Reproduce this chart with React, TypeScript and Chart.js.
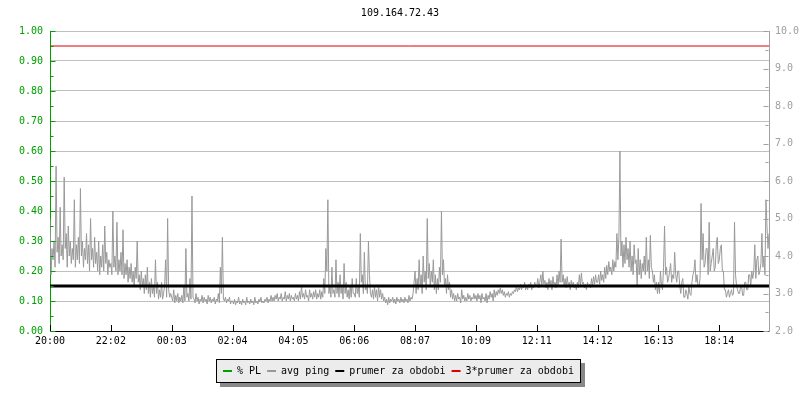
import React, { useEffect, useRef } from "react";
import { Chart, registerables } from "chart.js";

Chart.register(...registerables);

const chartTitle = "109.164.72.43";
const timeTicks = ["20:00", "22:02", "00:03", "02:04", "04:05", "06:06", "08:07", "10:09", "12:11", "14:12", "16:13", "18:14"];
const pointsPerTick = 60;

// avg ping (ms), right axis, ~2 min samples
const avgPing = [
  // 20:00 - 22:02
  5.0, 3.5, 4.2, 3.9, 4.4, 3.7, 6.4, 4.1, 4.5, 3.8,
  5.3, 4.0, 4.3, 3.9, 6.1, 4.2, 4.6, 3.7, 4.8, 4.0,
  4.4, 3.8, 4.2, 3.9, 5.5, 3.7, 4.3, 3.9, 4.5, 3.8,
  5.8, 4.0, 4.4, 3.7, 4.2, 3.9, 4.6, 3.8, 4.3, 3.6,
  5.0, 3.9, 4.2, 3.7, 4.5, 3.8, 4.1, 3.6, 4.4, 3.5,
  4.0, 3.7, 4.3, 3.6, 4.8, 3.8, 4.1, 3.5, 3.9, 3.7,
  // 22:02 - 00:03
  3.8, 3.5, 5.2, 3.7, 4.0, 3.6, 4.9, 3.5, 3.9, 3.6,
  4.1, 3.5, 4.7, 3.4, 3.8, 3.5, 3.9, 3.3, 3.7, 3.4,
  3.8, 3.3, 3.6, 3.2, 3.7, 3.4, 4.4, 3.3, 3.5, 3.1,
  3.6, 3.2, 3.4, 3.0, 3.5, 3.1, 3.7, 3.0, 3.3, 2.9,
  3.4, 3.0, 3.2, 2.9, 3.9, 3.0, 3.3, 2.85, 3.1, 2.9,
  3.3, 2.85, 3.0, 3.2, 3.9, 2.9, 5.0, 3.1, 2.9, 3.0,
  // 00:03 - 02:04
  2.9, 2.8, 3.1, 2.75, 2.95, 2.8, 3.0, 2.75, 2.9, 2.8,
  2.95, 2.75, 3.2, 2.8, 4.2, 2.9, 3.0, 2.8, 3.4, 2.85,
  5.6, 2.9, 2.85, 2.75, 3.0, 2.8, 2.9, 2.72, 2.85, 2.8,
  2.95, 2.75, 2.9, 2.8, 2.85, 2.72, 2.95, 2.8, 2.9, 2.75,
  2.85, 2.8, 2.9, 2.72, 2.85, 2.8, 3.0, 2.75, 3.7, 3.0,
  4.5, 2.85, 2.8, 2.9, 2.75, 2.85, 2.8, 2.9, 2.72, 2.8,
  // 02:04 - 04:05
  2.8, 2.72, 2.85, 2.7, 2.8, 2.75, 2.9, 2.72, 2.8, 2.7,
  2.85, 2.75, 2.8, 2.7, 2.9, 2.75, 2.8, 2.72, 2.85, 2.75,
  2.8, 2.7, 2.9, 2.75, 2.8, 2.72, 2.85, 2.78, 2.9, 2.75,
  2.8, 2.75, 2.85, 2.8, 2.9, 2.75, 2.85, 2.8, 2.95, 2.8,
  2.9, 2.8, 2.95, 2.85, 3.0, 2.8, 2.9, 2.85, 3.0, 2.8,
  2.9, 2.85, 3.05, 2.8, 2.95, 2.85, 3.0, 2.8, 2.95, 2.85,
  // 04:05 - 06:06
  2.9, 2.8, 3.0, 2.85, 2.95, 2.8, 3.05, 2.85, 3.2, 2.9,
  3.0, 2.85, 3.1, 2.9, 2.95, 2.8, 3.1, 2.9, 3.0, 2.85,
  3.05, 2.9, 3.1, 2.85, 3.0, 2.9, 3.1, 2.85, 3.05, 2.9,
  3.4, 3.0, 4.2, 3.6, 5.5, 3.0, 3.2, 2.9, 3.7, 3.0,
  3.1, 2.9, 3.9, 3.0, 3.3, 2.9, 3.5, 3.0, 3.2, 2.85,
  3.8, 3.0, 3.3, 2.9, 3.1, 2.85, 3.2, 2.9, 3.4, 3.0,
  // 06:06 - 08:07
  3.0, 2.9, 3.4, 3.0, 3.2, 2.9, 4.6, 3.3, 3.5, 3.0,
  4.1, 3.1, 3.2, 3.0, 4.4, 3.5, 3.0, 2.9, 3.1, 2.85,
  3.2, 2.9, 3.1, 2.8, 3.2, 2.9, 3.1, 2.85, 3.0, 2.8,
  2.9, 2.75, 2.85, 2.7, 2.9, 2.75, 2.85, 2.8, 2.9, 2.75,
  2.85, 2.72, 2.9, 2.8, 2.85, 2.75, 2.9, 2.78, 2.85, 2.75,
  2.9, 2.8, 2.85, 2.75, 2.95, 2.8, 2.9, 2.85, 3.0, 3.3,
  // 08:07 - 10:09
  3.6, 3.0, 3.4, 3.1, 3.9, 3.2, 3.5, 3.0, 4.0, 3.3,
  3.6, 3.1, 5.0, 3.4, 3.8, 3.2, 3.6, 3.3, 3.9, 3.1,
  3.5, 3.0, 3.4, 3.1, 3.7, 3.3, 5.2, 3.5, 3.9, 3.2,
  3.4, 3.0, 3.5, 3.1, 3.3, 2.9, 3.1, 2.85, 3.0, 2.8,
  2.95, 2.8, 3.0, 2.85, 2.9, 2.75, 3.1, 2.85, 2.95, 2.8,
  2.9, 2.8, 3.0, 2.85, 2.95, 2.8, 2.9, 2.85, 3.0, 2.85,
  // 10:09 - 12:11
  2.95, 2.8, 3.0, 2.85, 2.95, 2.75, 3.0, 2.85, 2.9, 2.8,
  3.0, 2.75, 2.95, 2.85, 3.05, 2.9, 3.0, 2.8, 3.1, 2.9,
  3.05, 2.95, 3.1, 3.0, 3.15, 3.0, 3.1, 2.95, 3.05, 2.9,
  3.0, 2.95, 3.05, 2.9, 3.0, 2.95, 3.05, 3.0, 3.1, 3.05,
  3.2, 3.05, 3.15, 3.1, 3.25, 3.1, 3.2, 3.15, 3.3, 3.1,
  3.2, 3.1, 3.25, 3.15, 3.3, 3.1, 3.2, 3.15, 3.3, 3.2,
  // 12:11 - 14:12
  3.2, 3.4, 3.15, 3.3, 3.5, 3.2, 3.6, 3.25, 3.35, 3.15,
  3.3, 3.1, 3.4, 3.2, 3.35, 3.1, 3.45, 3.2, 3.3, 3.15,
  3.5, 3.2, 3.6, 3.3, 4.45, 3.3, 3.5, 3.2, 3.4, 3.15,
  3.45, 3.2, 3.3, 3.1, 3.35, 3.2, 3.3, 3.15, 3.25, 3.1,
  3.3, 3.15, 3.5, 3.2, 3.55, 3.25, 3.3, 3.15, 3.25, 3.1,
  3.3, 3.2, 3.25, 3.15, 3.4, 3.2, 3.45, 3.25, 3.5, 3.3,
  // 14:12 - 16:13
  3.3, 3.5, 3.25, 3.6, 3.35, 3.5, 3.3, 3.7, 3.4, 3.75,
  3.5, 3.85, 3.6, 3.7, 3.5, 3.9, 3.6, 3.85, 3.7, 4.6,
  3.9, 4.5, 6.8, 4.0, 4.4, 3.7, 4.3, 3.8, 4.5, 3.9,
  4.2, 3.7, 4.4, 3.6, 4.0, 3.5, 4.3, 3.8, 3.9, 3.2,
  4.2, 3.5, 3.9, 3.4, 3.8, 3.6, 4.0, 3.5, 4.5, 3.6,
  3.9, 3.4, 4.55, 3.7, 3.6, 3.3, 3.5, 3.1, 3.3, 3.0,
  // 16:13 - 18:14
  3.3, 3.0, 3.6, 3.2, 3.1, 3.7, 4.8, 3.5, 3.7, 3.3,
  3.4, 3.6, 3.8, 3.3, 3.5, 3.4, 4.1, 3.5, 3.3, 3.6,
  3.6, 3.2, 3.0, 3.3, 3.4, 2.9, 2.9, 3.1, 3.0, 2.85,
  3.2, 3.0, 2.95, 3.3, 3.5, 3.6, 3.9, 3.3, 3.5, 3.2,
  3.2, 3.4, 5.4, 3.9, 4.6, 3.7, 3.8, 4.2, 4.2, 3.5,
  4.9, 3.6, 3.8, 4.0, 4.2, 3.6, 3.7, 4.3, 4.5, 3.8,
  // 18:14 - end
  3.9, 4.2, 4.3, 3.6, 3.6, 3.1, 3.1, 2.9, 3.0, 3.1,
  2.9, 3.0, 3.1, 2.95, 3.0, 4.9, 3.5, 3.2, 3.1, 3.0,
  3.0, 3.2, 3.2, 2.95, 2.95, 3.3, 3.3, 3.1, 3.1, 3.5,
  3.5, 3.2, 3.6, 3.4, 3.6, 4.3, 3.4, 3.9, 4.0, 3.5,
  3.6, 3.8, 4.6, 3.7, 4.0, 3.5, 5.5, 4.8, 4.2, 4.6,
];

// % packet loss, left axis (no loss recorded)
const packetLoss: number[] = [];
const meanPing = 3.2;
const tripleMeanPing = 9.6;

const FONT = '"DejaVu Sans Mono", monospace';
const GREEN = "#00a000";
const GRAY = "#a0a0a0";
const PING = "#999999";
const GRID = "#c0c0c0";
const RED = "#e00000";

const tickMarks = {
  id: "tickMarks",
  afterDatasetsDraw(chart: any) {
    const ctx = chart.ctx;
    const area = chart.chartArea;
    const yL = chart.scales.yPL;
    const yR = chart.scales.yPing;
    const xs = chart.scales.x;
    ctx.save();
    ctx.lineWidth = 1;
    const lx = Math.round(area.left) + 0.5;
    ctx.strokeStyle = GREEN;
    for (let k = 0; k <= 20; k++) {
      const v = yL.min + (k * (yL.max - yL.min)) / 20;
      const y = Math.round(yL.getPixelForValue(v)) + 0.5;
      const len = k % 2 === 0 ? 5 : 3;
      ctx.beginPath();
      ctx.moveTo(lx, y);
      ctx.lineTo(lx + len, y);
      ctx.stroke();
    }
    const rx = Math.round(area.right) - 0.5;
    ctx.strokeStyle = GRAY;
    for (let k = 0; k <= 16; k++) {
      const v = yR.min + (k * (yR.max - yR.min)) / 16;
      const y = Math.round(yR.getPixelForValue(v)) + 0.5;
      const len = k % 2 === 0 ? 5 : 3;
      ctx.beginPath();
      ctx.moveTo(rx, y);
      ctx.lineTo(rx - len, y);
      ctx.stroke();
    }
    ctx.strokeStyle = "#000";
    const by = Math.round(area.bottom);
    xs.ticks.forEach((t: any) => {
      const x = Math.round(xs.getPixelForValue(t.value)) + 0.5;
      ctx.beginPath();
      ctx.moveTo(x, by - 6);
      ctx.lineTo(x, by);
      ctx.stroke();
    });
    ctx.restore();
  },
};

const boxLegend = {
  id: "boxLegend",
  afterDraw(chart: any) {
    const ctx = chart.ctx;
    ctx.save();
    ctx.font = "10px " + FONT;
    const items = chart.data.datasets.map((d: any) => ({ label: d.label, color: d.borderColor }));
    const lineW = 9;
    const gap1 = 5;
    const gap2 = 6;
    const padX = 7;
    let total = padX * 2;
    items.forEach((it: any, i: number) => {
      total += lineW + gap1 + ctx.measureText(it.label).width + (i < items.length - 1 ? gap2 : 0);
    });
    const boxW = Math.round(total);
    const boxH = 24;
    const left = Math.round(398 - boxW / 2);
    const top = 359;
    ctx.fillStyle = "#888888";
    ctx.fillRect(left + 4, top + 4, boxW, boxH);
    ctx.fillStyle = "#ececec";
    ctx.fillRect(left, top, boxW, boxH);
    ctx.strokeStyle = "#000";
    ctx.lineWidth = 1;
    ctx.strokeRect(left + 0.5, top + 0.5, boxW - 1, boxH - 1);
    let x = left + padX;
    const cy = top + boxH / 2;
    ctx.textBaseline = "middle";
    ctx.textAlign = "left";
    items.forEach((it: any) => {
      ctx.fillStyle = it.color;
      ctx.fillRect(x, cy - 1, lineW, 2);
      x += lineW + gap1;
      ctx.fillStyle = "#000";
      ctx.fillText(it.label, x, cy);
      x += ctx.measureText(it.label).width + gap2;
    });
    ctx.restore();
  },
};

export default function App() {
  const canvasRef = useRef<HTMLCanvasElement | null>(null);

  useEffect(() => {
    const canvas = canvasRef.current;
    if (!canvas) return;
    const last = avgPing.length - 1;
    const chart = new Chart(canvas, {
      type: "line",
      data: {
        datasets: [
          {
            label: "% PL",
            data: packetLoss.map((v, i) => ({ x: i, y: v })),
            yAxisID: "yPL",
            borderColor: GREEN,
            backgroundColor: GREEN,
            borderWidth: 1,
            pointRadius: 0,
            order: 0,
          },
          {
            label: "avg ping",
            data: avgPing.map((v, i) => ({ x: i, y: v })),
            yAxisID: "yPing",
            borderColor: PING,
            backgroundColor: PING,
            borderWidth: 1,
            pointRadius: 0,
            order: 3,
          },
          {
            label: "prumer za obdobi",
            data: [
              { x: 0, y: meanPing },
              { x: last, y: meanPing },
            ],
            yAxisID: "yPing",
            borderColor: "#000000",
            backgroundColor: "#000000",
            borderWidth: 3,
            pointRadius: 0,
            order: 2,
          },
          {
            label: "3*prumer za obdobi",
            data: [
              { x: 0, y: tripleMeanPing },
              { x: last, y: tripleMeanPing },
            ],
            yAxisID: "yPing",
            borderColor: RED,
            backgroundColor: RED,
            borderWidth: 1,
            pointRadius: 0,
            order: 1,
          },
        ],
      },
      options: {
        responsive: false,
        animation: false,
        devicePixelRatio: 1,
        layout: { padding: 0 },
        plugins: {
          legend: { display: false },
          tooltip: { enabled: false },
          title: {
            display: true,
            text: chartTitle,
            color: "#000",
            font: { family: FONT, size: 10, weight: "normal" },
            padding: { top: 7, bottom: 12 },
          },
        },
        scales: {
          x: {
            type: "linear",
            min: 0,
            max: last,
            grid: { display: false, drawTicks: false },
            border: { display: true, color: "#000", width: 1 },
            ticks: {
              autoSkip: false,
              maxRotation: 0,
              color: "#000",
              font: { family: FONT, size: 10 },
              padding: 4,
              callback: (v: any) => timeTicks[Math.round(Number(v) / pointsPerTick)] ?? "",
            },
            afterBuildTicks: (s: any) => {
              s.ticks = timeTicks.map((_, k) => ({ value: k * pointsPerTick }));
            },
            afterFit: (s: any) => {
              s.height = 69;
            },
          },
          yPL: {
            type: "linear",
            position: "left",
            min: 0,
            max: 1,
            grid: { color: GRID, drawTicks: false, lineWidth: 1 },
            border: { display: true, color: GREEN, width: 1 },
            ticks: {
              stepSize: 0.1,
              color: GREEN,
              font: { family: FONT, size: 10 },
              padding: 7,
              callback: (v: any) => Number(v).toFixed(2),
            },
            afterFit: (s: any) => {
              s.width = 50;
            },
          },
          yPing: {
            type: "linear",
            position: "right",
            min: 2,
            max: 10,
            grid: { display: false, drawTicks: false },
            border: { display: true, color: GRAY, width: 1 },
            ticks: {
              stepSize: 1,
              color: GRAY,
              font: { family: FONT, size: 10 },
              padding: 6,
              callback: (v: any) => Number(v).toFixed(1),
            },
            afterFit: (s: any) => {
              s.width = 31;
            },
          },
        },
      },
      plugins: [tickMarks, boxLegend],
    });
    return () => chart.destroy();
  }, []);

  return (
    <div style={{ position: "fixed", left: 0, top: 0, width: 800, height: 400, background: "#fff" }}>
      <canvas ref={canvasRef} width={800} height={400} />
    </div>
  );
}
